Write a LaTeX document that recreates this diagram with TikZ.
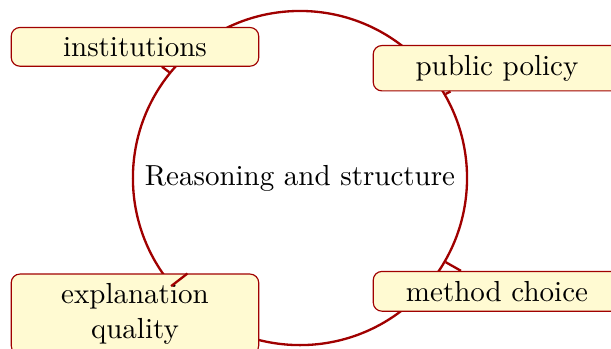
\documentclass[tikz,border=0pt]{standalone}
\definecolor{ringred}{RGB}{160,0,0}
\definecolor{notefill}{RGB}{255,250,210}

\begin{document}
\begin{tikzpicture}[
  ring/.style={circle,draw=ringred,thick,inner sep=0pt,minimum size=4.05cm},
  topic/.style={draw=ringred,fill=notefill,rounded corners=3pt,minimum width=3cm,align=center},
  link/.style={draw=ringred,thick}]
\useasboundingbox (-3.636,-2.061) rectangle (3.770,2.158);
\node [ring] (hub) at (0,0) {Reasoning and structure};
\node [topic] (inst) at (-2,1.59) {institutions};
\node [topic] (policy) at (2.388,1.331) {public policy};
\node [topic] (expl) at (-2,-1.65) {explanation\\quality};
\node [topic] (method) at (2.388,-1.373) {method choice};
\draw [link] (hub.141) -- (inst); \draw [link] (hub.30) -- (policy);
\draw [link] (hub.-140) -- (expl); \draw [link] (hub.-30) -- (method);
\end{tikzpicture}
\end{document}
